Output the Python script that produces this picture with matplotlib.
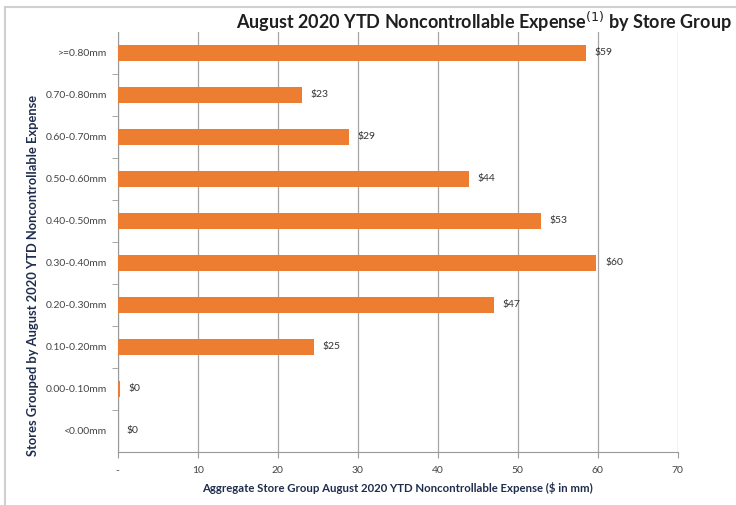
import matplotlib.pyplot as plt
from matplotlib.lines import Line2D

groups = ["<0.00mm", "0.00-0.10mm", "0.10-0.20mm", "0.20-0.30mm", "0.30-0.40mm",
          "0.40-0.50mm", "0.50-0.60mm", "0.60-0.70mm", "0.70-0.80mm", ">=0.80mm"]
expense = [0.0, 0.3, 24.5, 47.0, 59.8, 52.9, 43.9, 28.9, 23.0, 58.5]
bar_labels = ["$0", "$0", "$25", "$47", "$60", "$53", "$44", "$29", "$23", "$59"]
x_ticks = [0, 10, 20, 30, 40, 50, 60, 70]
x_ticklabels = ["-", "10", "20", "30", "40", "50", "60", "70"]

plt.rcParams["font.family"] = ["Lato", "DejaVu Sans"]

fig = plt.figure(figsize=(7.36, 5.05), dpi=100)
ax = fig.add_axes([0.160, 0.105, 0.761, 0.832])

pos = list(range(len(groups)))
ax.barh(pos, expense, height=0.38, color="#ED7D31", zorder=3)
for p, v, lab in zip(pos, expense, bar_labels):
    ax.text(v + 1.1, p, lab, va="center", ha="left", fontsize=7.5, color="#333333")

ax.set_xlim(0, 70)
ax.set_ylim(-0.5, len(groups) - 0.5)
ax.set_xticks(x_ticks)
ax.set_xticklabels(x_ticklabels, fontsize=7.5, color="#444444")
ax.set_yticks(pos)
ax.set_yticklabels(groups, fontsize=7.5, color="#444444")
ax.set_yticks([p + 0.5 for p in pos[:-1]], minor=True)
ax.tick_params(axis="y", which="major", length=0, pad=8)
ax.tick_params(axis="y", which="minor", length=4, color="#999999", direction="out")
ax.tick_params(axis="x", length=4, color="#999999", direction="out", pad=6)

ax.grid(axis="x", color="#A6A6A6", linewidth=0.9, zorder=0)
for s in ["top", "right"]:
    ax.spines[s].set_visible(False)
for s in ["left", "bottom"]:
    ax.spines[s].set_color("#999999")

ax.set_xlabel("Aggregate Store Group August 2020 YTD Noncontrollable Expense ($ in mm)",
              fontsize=8.2, fontweight="bold", color="#1F2D4D", labelpad=5)
ax.set_ylabel("Stores Grouped by August 2020 YTD Noncontrollable Expense",
              fontsize=9.3, fontweight="bold", color="#1F2D4D")
ax.yaxis.set_label_coords(-0.14, 0.42)

fig.text(0.994, 0.957, "August 2020 YTD Noncontrollable Expense$^{(1)}$ by Store Group",
         ha="right", va="center", fontsize=13, fontweight="bold", color="#1F1F1F")

# light frame around the chart area
fig.add_artist(Line2D([5 / 736, 5 / 736], [0, 1 - 7 / 505], transform=fig.transFigure,
                      color="#D0D0D0", linewidth=1.5))
fig.add_artist(Line2D([5 / 736, 1], [1 - 7 / 505, 1 - 7 / 505], transform=fig.transFigure,
                      color="#D0D0D0", linewidth=1.5))

plt.savefig("out.png", dpi=100)
